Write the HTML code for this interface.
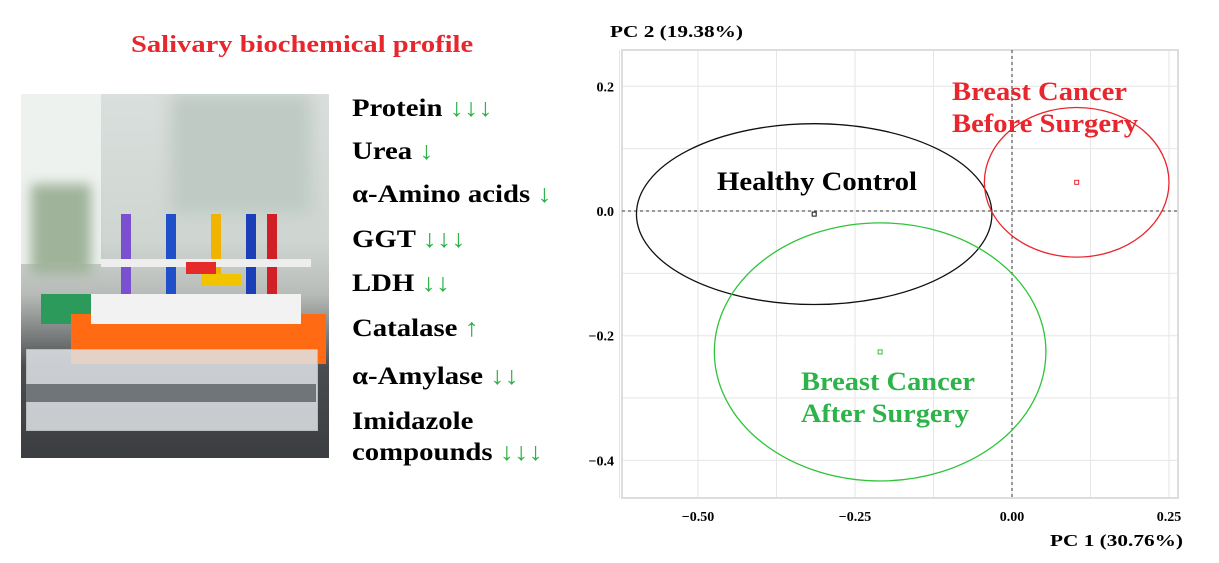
<!DOCTYPE html>
<html><head><meta charset="utf-8">
<style>
body{margin:0;width:1219px;height:563px;background:#fff;overflow:hidden;position:relative;font-family:"Liberation Serif",serif;}
.t{position:absolute;font-weight:bold;white-space:nowrap;transform-origin:left top;}
.li{position:absolute;left:352px;font-weight:bold;font-size:25px;line-height:25px;color:#000;white-space:nowrap;transform:scaleX(1.15);transform-origin:left top;}
.g{color:#2db34a;font-weight:bold;}
.ph{position:absolute;}
</style></head><body>
<div class="t" style="left:131px;top:32px;font-size:24px;color:#e8262d;transform:scaleX(1.19);">Salivary biochemical profile</div>

<div class="ph" style="left:21px;top:94px;width:308px;height:364px;background:linear-gradient(#d9dfdc,#cfd6d2 40%,#b8bcb8 55%,#4a4d50 75%,#3b3d40);overflow:hidden;">
  <div class="ph" style="left:0;top:0;width:80px;height:170px;background:#eef2ef"></div>
  <div class="ph" style="left:10px;top:90px;width:60px;height:90px;background:#9fb39a;filter:blur(6px)"></div>
  <div class="ph" style="left:150px;top:0;width:140px;height:120px;background:#bfcac4;filter:blur(8px)"></div>
  <div class="ph" style="left:100px;top:120px;width:10px;height:80px;background:#7a4fd0"></div>
  <div class="ph" style="left:145px;top:120px;width:10px;height:80px;background:#1f4fc9"></div>
  <div class="ph" style="left:190px;top:120px;width:10px;height:70px;background:#f0b400"></div>
  <div class="ph" style="left:225px;top:120px;width:10px;height:80px;background:#1b3fb8"></div>
  <div class="ph" style="left:246px;top:120px;width:10px;height:80px;background:#d01f25"></div>
  <div class="ph" style="left:80px;top:165px;width:210px;height:8px;background:#eee"></div>
  <div class="ph" style="left:165px;top:168px;width:30px;height:12px;background:#e52a2a"></div>
  <div class="ph" style="left:180px;top:180px;width:40px;height:12px;background:#f2c400"></div>
  <div class="ph" style="left:20px;top:200px;width:60px;height:30px;background:#2c9a5a"></div>
  <div class="ph" style="left:50px;top:220px;width:255px;height:50px;background:#ff6a12"></div>
  <div class="ph" style="left:70px;top:200px;width:210px;height:30px;background:#f2f2f2"></div>
  <div class="ph" style="left:5px;top:255px;width:290px;height:80px;background:rgba(225,228,232,.85);border:1px solid #bbb"></div>
  <div class="ph" style="left:5px;top:290px;width:290px;height:18px;background:#70757a"></div>
</div>

<div class="li" style="top:96px">Protein <span class="g">↓↓↓</span></div>
<div class="li" style="top:139px">Urea <span class="g">↓</span></div>
<div class="li" style="top:182px">α-Amino acids <span class="g">↓</span></div>
<div class="li" style="top:227px">GGT <span class="g">↓↓↓</span></div>
<div class="li" style="top:271px">LDH <span class="g">↓↓</span></div>
<div class="li" style="top:316px">Catalase <span class="g">↑</span></div>
<div class="li" style="top:364px">α-Amylase <span class="g">↓↓</span></div>
<div class="li" style="top:409px">Imidazole</div>
<div class="li" style="top:440px">compounds <span class="g">↓↓↓</span></div>

<svg id="chart" width="1219" height="563" style="position:absolute;left:0;top:0" font-family="Liberation Serif, serif"></svg>
<script>
const xTicks=[-0.5,-0.25,0,0.25];
const yTicks=[0.2,0,-0.2,-0.4];
const groups=["Healthy Control","Breast Cancer Before Surgery","Breast Cancer After Surgery"];
const centerX=[-0.315,0.103,-0.210];
const centerY=[-0.005,0.046,-0.226];
const radiusX=[0.283,0.147,0.264];
const radiusY=[0.145,0.120,0.207];
const colors=["#111","#e8262d","#2ec43a"];
const X=v=>1012+v*628, Y=v=>211-v*623.5;
const svg=document.getElementById('chart');const NS='http://www.w3.org/2000/svg';
function mk(t,a,p){const e=document.createElementNS(NS,t);for(const k in a)e.setAttribute(k,a[k]);(p||svg).appendChild(e);return e;}
const L=622,R=1178,T=50,B=498;
for(let v=-0.625;v<=0.25001;v+=0.125){let e=mk('line',{x1:X(v),x2:X(v),y1:T,y2:B,stroke:'#e6e6e6','stroke-width':1});}
for(let v=-0.4;v<=0.25;v+=0.1){let e=mk('line',{x1:L,x2:R,y1:Y(v),y2:Y(v),stroke:'#e6e6e6','stroke-width':1});}
let fr=mk('rect',{x:L,y:T,width:R-L,height:B-T,fill:'none',stroke:'#ddd','stroke-width':2});

let h=mk('line',{x1:L,x2:R,y1:Y(0),y2:Y(0),stroke:'#333','stroke-dasharray':'3,3'});

let vv=mk('line',{x1:X(0),x2:X(0),y1:T,y2:B,stroke:'#333','stroke-dasharray':'3,3'});

xTicks.forEach(t=>{let e=mk('text',{x:X(t),y:521,'text-anchor':'middle','font-size':14,'font-weight':'bold'});e.textContent=(t<0?'−':'')+Math.abs(t).toFixed(2);});
yTicks.forEach(t=>{let e=mk('text',{x:614,y:Y(t)+5,'text-anchor':'end','font-size':14,'font-weight':'bold'});e.textContent=(t<0?'−':'')+Math.abs(t).toFixed(1);});
groups.forEach((g,i)=>{
 let e=mk('ellipse',{cx:X(centerX[i]),cy:Y(centerY[i]),rx:radiusX[i]*628,ry:radiusY[i]*623.5,fill:'none',stroke:colors[i],'stroke-width':1.3});
 
 let p=mk('rect',{x:X(centerX[i])-2,y:Y(centerY[i])-2,width:4,height:4,fill:'none',stroke:colors[i],'stroke-width':1});
 
});
function lab(txt,x,y,c,n,w){let e=mk('text',{x:x,y:y,'font-size':26,'font-weight':'bold',fill:c,textLength:w,lengthAdjust:'spacingAndGlyphs'});e.textContent=txt;}
lab('Healthy Control',717,190,'#000','label-healthy-control',200);
lab('Breast Cancer',952,100,'#e8262d','label-before-surgery',175);
lab('Before Surgery',952,132,'#e8262d','label-before-surgery-2',186);
lab('Breast Cancer',801,390,'#2db34a','label-after-surgery',174);
lab('After Surgery',801,422,'#2db34a','label-after-surgery-2',168);
let ya=mk('text',{x:610,y:37,'font-size':17,'font-weight':'bold',textLength:133,lengthAdjust:'spacingAndGlyphs'});ya.textContent='PC 2 (19.38%)';

let xa=mk('text',{x:1050,y:546,'font-size':17,'font-weight':'bold',textLength:133,lengthAdjust:'spacingAndGlyphs'});xa.textContent='PC 1 (30.76%)';

</script>
</body></html>
